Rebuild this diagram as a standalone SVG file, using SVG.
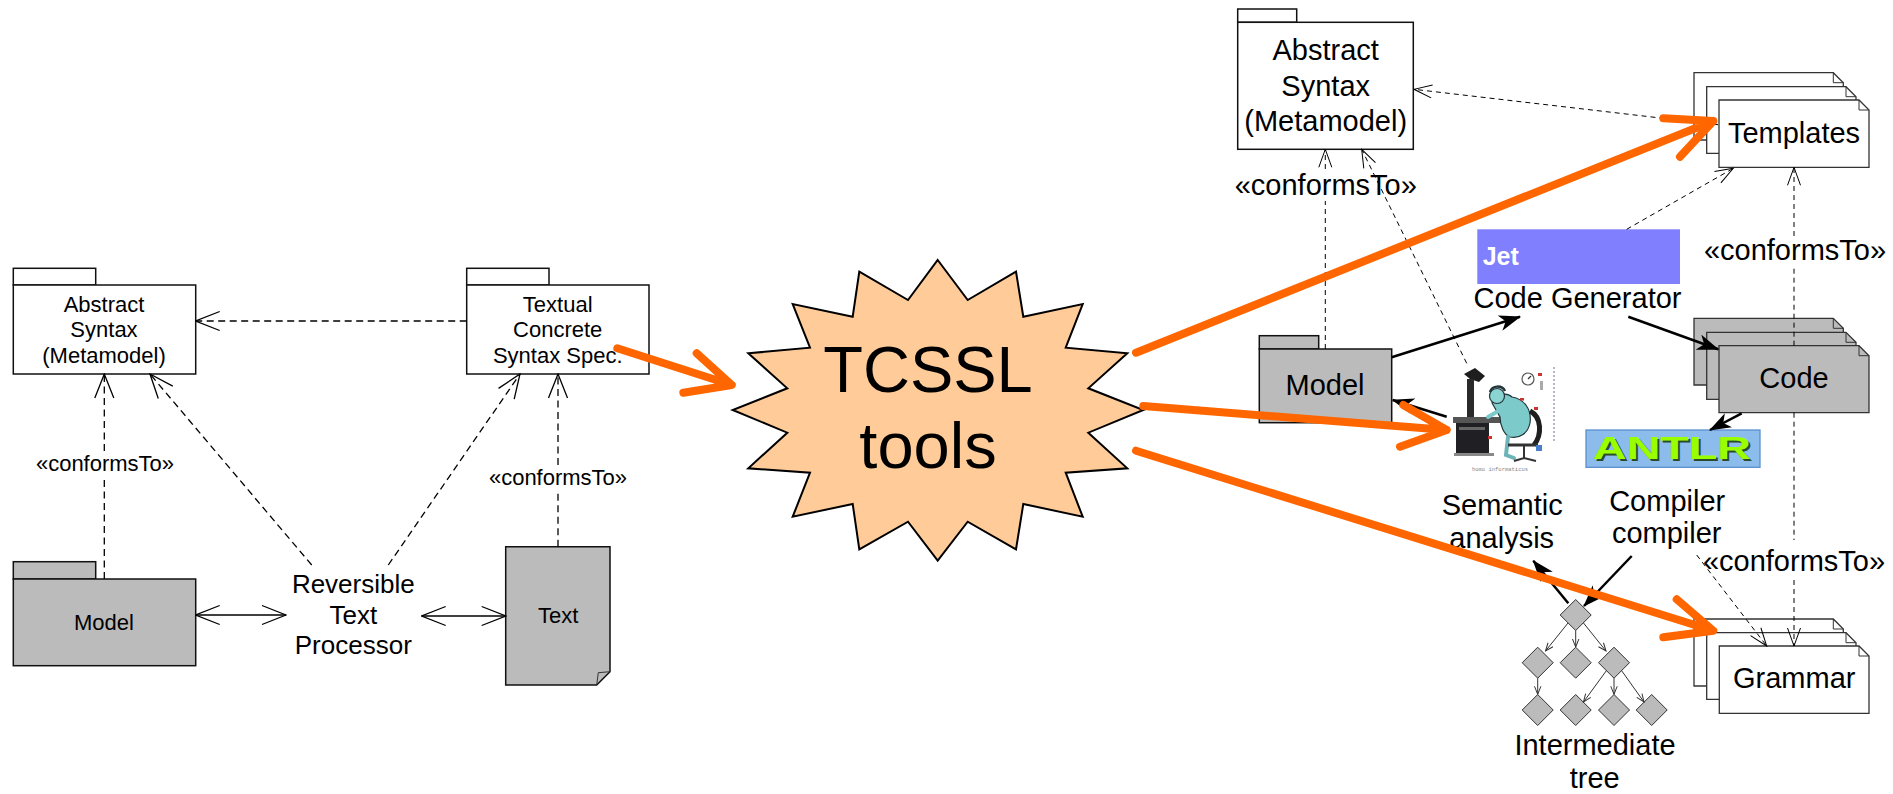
<svg xmlns="http://www.w3.org/2000/svg" width="1893" height="794" viewBox="0 0 1893 794">
  <defs>
    <style>
      text { font-family: "Liberation Sans", Arial, sans-serif; fill: #000; }
      .t22 { font-size: 22px; text-anchor: middle; }
      .t26 { font-size: 26px; text-anchor: middle; }
      .t29 { font-size: 29px; text-anchor: middle; }
      .box { fill: #fff; stroke: #111; stroke-width: 1.5; }
      .gray { fill: #bbb; stroke: #111; stroke-width: 1.5; }
      .sheet { fill: #fff; stroke: #333; stroke-width: 1.3; }
      .sheetg { fill: #bbb; stroke: #333; stroke-width: 1.3; }
      .fold { fill: none; stroke: #333; stroke-width: 1; }
      .dashL { fill: none; stroke: #000; stroke-width: 1.3; stroke-dasharray: 7 4.5; }
      .dashR { fill: none; stroke: #000; stroke-width: 1; stroke-dasharray: 5 4; }
      .lineL { fill: none; stroke: #000; stroke-width: 1.3; }
      .solid { fill: none; stroke: #000; stroke-width: 2.5; }
      .thin { fill: none; stroke: #333; stroke-width: 1; }
      .orange { fill: none; stroke: #ff6600; stroke-width: 8; stroke-linecap: round; stroke-linejoin: round; }
      .diamond { fill: #bbb; stroke: #333; stroke-width: 1; }
    </style>
    <marker id="openL" viewBox="0 0 26 22" refX="25" refY="11" markerWidth="26" markerHeight="22" markerUnits="userSpaceOnUse" orient="auto-start-reverse">
      <path d="M1,1.5 L25,11 L1,20.5" fill="none" stroke="#000" stroke-width="1.3"/>
    </marker>
    <marker id="openR" viewBox="0 0 20 16" refX="19" refY="8" markerWidth="20" markerHeight="16" markerUnits="userSpaceOnUse" orient="auto-start-reverse">
      <path d="M1,1.5 L19,8 L1,14.5" fill="none" stroke="#000" stroke-width="1"/>
    </marker>
    <marker id="openS" viewBox="0 0 10 8" refX="9" refY="4" markerWidth="10" markerHeight="8" markerUnits="userSpaceOnUse" orient="auto">
      <path d="M1,0.8 L9,4 L1,7.2" fill="none" stroke="#333" stroke-width="1"/>
    </marker>
    <marker id="filled" viewBox="0 0 22 16" refX="21" refY="8" markerWidth="22" markerHeight="16" markerUnits="userSpaceOnUse" orient="auto">
      <path d="M0,0 L22,8 L0,16 L6,8 Z" fill="#000"/>
    </marker>
  </defs>

  <rect x="0" y="0" width="1893" height="794" fill="#fff"/>

  <!-- ===== left-hand diagram ===== -->
  <g id="abstract-syntax-left">
    <rect class="box" x="13.3" y="268.3" width="82.4" height="16.7"/>
    <rect class="box" x="13.3" y="285" width="182.4" height="89"/>
    <text class="t22" x="104" y="311.7">Abstract</text>
    <text class="t22" x="104" y="337.3">Syntax</text>
    <text class="t22" x="104" y="362.7">(Metamodel)</text>
  </g>

  <g id="textual-concrete-syntax">
    <rect class="box" x="466.7" y="268.3" width="82.3" height="16.7"/>
    <rect class="box" x="466.7" y="285" width="182.3" height="89"/>
    <text class="t22" x="557.7" y="311.7">Textual</text>
    <text class="t22" x="557.7" y="337.3">Concrete</text>
    <text class="t22" x="557.7" y="362.7">Syntax Spec.</text>
  </g>

  <g id="model-left">
    <rect class="gray" x="13.3" y="561.7" width="82.4" height="17.3"/>
    <rect class="gray" x="13.3" y="579" width="182.4" height="86.7"/>
    <text class="t22" x="104" y="630">Model</text>
  </g>

  <g id="reversible-text-processor">
    <text class="t26" x="353.3" y="593.3">Reversible</text>
    <text class="t26" x="353.3" y="624">Text</text>
    <text class="t26" x="353.3" y="654">Processor</text>
  </g>

  <g id="text-document">
    <path class="gray" d="M505.7,546.7 H610 V671.7 L596.7,685 H505.7 Z"/>
    <path class="fold" d="M596.7,685 L598.3,672.7 L610,671.7"/>
    <text class="t22" x="558.3" y="623.3">Text</text>
  </g>

  <g id="labels-left">
    <text class="t22" x="105" y="470.7">«conformsTo»</text>
    <text class="t22" x="558" y="485">«conformsTo»</text>
  </g>

  <!-- ===== tool star ===== -->
  <g id="tcssl-tools">
    <polygon fill="#ffcc99" stroke="#000" stroke-width="2" points="937.7,260 967.7,300 1016,271.7 1023.3,316.7 1082.7,304 1065.7,347.7 1127.3,353.3 1088.3,388.3 1143.3,410 1088.3,432.7 1127.3,468.3 1065.7,472.7 1082.7,516.7 1023.3,504 1016,549.3 967.7,521.7 937.7,560.7 908,521.7 859.3,549.3 852.7,504 792.7,516.7 810,472.7 748.3,468.3 787.3,432.7 732.7,410 787.3,388.3 748.3,353.3 810,347.7 792.7,304 852.7,316.7 859.3,271.7 908,300"/>
    <text x="928" y="391.7" font-size="65" text-anchor="middle">TCSSL</text>
    <text x="928" y="468.3" font-size="65" text-anchor="middle">tools</text>
  </g>

  <!-- ===== right-hand diagram ===== -->
  <g id="abstract-syntax-right">
    <rect class="box" x="1237.7" y="9" width="59" height="13.3" stroke-width="1.3"/>
    <rect class="box" x="1237.7" y="22.3" width="175.6" height="127" stroke-width="1.3"/>
    <text class="t29" x="1325.7" y="60">Abstract</text>
    <text class="t29" x="1325.7" y="95.7">Syntax</text>
    <text class="t29" x="1325.7" y="131">(Metamodel)</text>
  </g>

  <g id="templates">
    <path class="sheet" d="M1694,72.7 H1833.3 L1843.3,82.7 V140 H1694 Z"/>
    <path class="fold" d="M1833.3,72.7 V82.7 H1843.3"/>
    <path class="sheet" d="M1706.7,86.7 H1846 L1856,96.7 V153.3 H1706.7 Z"/>
    <path class="fold" d="M1846,86.7 V96.7 H1856"/>
    <path class="sheet" d="M1719,100 H1859 L1869,110 V167.3 H1719 Z"/>
    <path class="fold" d="M1859,100 V110 H1869"/>
    <text class="t29" x="1794" y="142.7">Templates</text>
  </g>

  <g id="jet-code-generator">
    <rect x="1477.3" y="229.3" width="202.7" height="54.7" fill="#8080ff"/>
    <text x="1482.7" y="265" font-size="25" font-weight="bold" style="fill:#fff">Jet</text>
    <text class="t29" x="1577.5" y="308.3">Code Generator</text>
  </g>

  <g id="model-right">
    <rect class="gray" x="1259.3" y="335.7" width="59.4" height="13.3" stroke-width="1.3"/>
    <rect class="gray" x="1259.3" y="349" width="132.4" height="73.7" stroke-width="1.3"/>
    <text class="t29" x="1325" y="395">Model</text>
  </g>

  <g id="code">
    <path class="sheetg" d="M1694,318.3 H1833.3 L1843.3,328.3 V385 H1694 Z"/>
    <path class="fold" d="M1833.3,318.3 V328.3 H1843.3"/>
    <path class="sheetg" d="M1706.7,332.3 H1846 L1856,342.3 V399.3 H1706.7 Z"/>
    <path class="fold" d="M1846,332.3 V342.3 H1856"/>
    <path class="sheetg" d="M1719,345.7 H1859 L1869,355.7 V412.7 H1719 Z"/>
    <path class="fold" d="M1859,345.7 V355.7 H1869"/>
    <text class="t29" x="1794" y="388.3">Code</text>
  </g>

  <g id="semantic-analysis">
    <g transform="translate(1450,365)">
      <!-- lamp and monitor -->
      <polygon points="14,9 25,3 35,11 29,17 20,14" fill="#1e1e1e"/>
      <rect x="17" y="14" width="7" height="40" fill="#2a2a2a"/>
      <!-- desk -->
      <rect x="3" y="52" width="48" height="6" fill="#555"/>
      <rect x="6" y="58" width="33" height="30" fill="#1f1f24"/>
      <rect x="9" y="62" width="26" height="3" fill="#666"/>
      <rect x="4" y="88" width="40" height="3" fill="#888"/>
      <!-- person -->
      <path d="M42,38 C44,30 56,26 62,32 C74,34 82,44 80,58 C78,68 70,74 60,72 C54,70 50,60 50,52 Z" fill="#7ccaca" stroke="#22343a" stroke-width="1.2"/>
      <circle cx="47" cy="31" r="7.5" fill="#8ad4d2" stroke="#22343a" stroke-width="1.2"/>
      <path d="M40,27 C42,20 52,20 55,26" fill="none" stroke="#22343a" stroke-width="2.5"/>
      <path d="M50,45 L38,52" stroke="#7ccaca" stroke-width="4" stroke-linecap="round"/>
      <path d="M58,72 L56,90 L64,93" fill="none" stroke="#6cb4b8" stroke-width="4" stroke-linecap="round"/>
      <!-- chair -->
      <path d="M80,46 C92,52 92,70 84,80" fill="none" stroke="#1f1f1f" stroke-width="5"/>
      <path d="M58,80 H88" stroke="#333" stroke-width="3"/>
      <path d="M74,80 V93 M64,96 L74,93 L86,96" fill="none" stroke="#333" stroke-width="2"/>
      <!-- clock and desk clutter -->
      <circle cx="78" cy="14" r="6" fill="#fff" stroke="#555" stroke-width="1.2"/>
      <path d="M78,14 L81,11" stroke="#333" stroke-width="1.2"/>
      <rect x="90" y="16" width="3" height="9" fill="#aaa"/>
      <rect x="88" y="8" width="4" height="3" fill="#c33"/>
      <rect x="70" y="33" width="4" height="2.5" fill="#c33"/>
      <rect x="84" y="42" width="4" height="3" fill="#c33"/>
      <rect x="38" y="71" width="4" height="3" fill="#c33"/>
      <rect x="86" y="80" width="6" height="6" fill="#4a7fcc"/>
      <path d="M104,2 V78" stroke="#9aa0b8" stroke-width="1.5" stroke-dasharray="2 2"/>
      <text x="50" y="106" font-size="5.5" text-anchor="middle" style="fill:#888;font-family:'Liberation Mono',monospace">homo informaticus</text>
    </g>
    <text class="t29" x="1502.2" y="515">Semantic</text>
    <text class="t29" x="1501.7" y="548.3">analysis</text>
  </g>

  <g id="antlr-compiler-compiler">
    <rect x="1586" y="430" width="174" height="37.3" fill="#8cbcec" stroke="#5b8fd0" stroke-width="1.3"/>
    <text x="1595" y="461" font-size="31" font-weight="bold" textLength="158" lengthAdjust="spacingAndGlyphs" style="fill:#2b4b2b">ANTLR</text>
    <text x="1593" y="459" font-size="31" font-weight="bold" textLength="158" lengthAdjust="spacingAndGlyphs" style="fill:#99ff00">ANTLR</text>
    <text class="t29" x="1667.2" y="510.7">Compiler</text>
    <text class="t29" x="1666.7" y="543.3">compiler</text>
  </g>

  <g id="intermediate-tree">
    <polygon class="diamond" points="1575.7,599.5 1591.2,615 1575.7,630.5 1560.2,615"/>
    <polygon class="diamond" points="1537.7,647.2 1553.2,662.7 1537.7,678.2 1522.2,662.7"/>
    <polygon class="diamond" points="1575.7,647.2 1591.2,662.7 1575.7,678.2 1560.2,662.7"/>
    <polygon class="diamond" points="1614,647.2 1629.5,662.7 1614,678.2 1598.5,662.7"/>
    <polygon class="diamond" points="1537.7,694.5 1553.2,710 1537.7,725.5 1522.2,710"/>
    <polygon class="diamond" points="1575.7,694.5 1591.2,710 1575.7,725.5 1560.2,710"/>
    <polygon class="diamond" points="1614,694.5 1629.5,710 1614,725.5 1598.5,710"/>
    <polygon class="diamond" points="1651.7,694.5 1667.2,710 1651.7,725.5 1636.2,710"/>
    <path class="thin" marker-end="url(#openS)" d="M1568,623 L1545.5,651"/>
    <path class="thin" marker-end="url(#openS)" d="M1575.7,630.5 L1575.7,647"/>
    <path class="thin" marker-end="url(#openS)" d="M1583.5,623 L1606,651"/>
    <path class="thin" marker-end="url(#openS)" d="M1537.7,678.2 L1537.7,694.3"/>
    <path class="thin" marker-end="url(#openS)" d="M1606.5,670.5 L1583.5,702"/>
    <path class="thin" marker-end="url(#openS)" d="M1614,678.2 L1614,694.3"/>
    <path class="thin" marker-end="url(#openS)" d="M1621.5,670.5 L1644,702"/>
    <text class="t29" x="1595" y="755">Intermediate</text>
    <text class="t29" x="1594.7" y="788.3">tree</text>
  </g>

  <g id="grammar">
    <path class="sheet" d="M1694,619 H1833.3 L1843.3,629 V686 H1694 Z"/>
    <path class="fold" d="M1833.3,619 V629 H1843.3"/>
    <path class="sheet" d="M1706.7,632.7 H1846 L1856,642.7 V699.3 H1706.7 Z"/>
    <path class="fold" d="M1846,632.7 V642.7 H1856"/>
    <path class="sheet" d="M1719.3,646 H1859 L1869,656 V713.3 H1719.3 Z"/>
    <path class="fold" d="M1859,646 V656 H1869"/>
    <text class="t29" x="1794.2" y="688.3">Grammar</text>
  </g>

  <g id="labels-right">
    <text class="t29" x="1325.8" y="195">«conformsTo»</text>
    <text class="t29" x="1795" y="260">«conformsTo»</text>
    <text class="t29" x="1794" y="570.7">«conformsTo»</text>
  </g>

  <!-- ===== connectors ===== -->
  <g id="connectors">
    <!-- left diagram -->
    <path class="dashL" marker-end="url(#openL)" d="M466.7,321 L195.7,321"/>
    <path class="dashL" d="M104.3,579 L104.3,478"/>
    <path class="dashL" marker-end="url(#openL)" d="M104.3,451 L104.3,374"/>
    <path class="dashL" marker-end="url(#openL)" d="M311.7,565 L150,374"/>
    <path class="dashL" marker-end="url(#openL)" d="M388.3,565 L520,374"/>
    <path class="dashL" d="M558,546.7 L558,492"/>
    <path class="dashL" marker-end="url(#openL)" d="M558,465 L558,374"/>
    <path class="lineL" marker-start="url(#openL)" marker-end="url(#openL)" d="M195.7,615 L286,615"/>
    <path class="lineL" marker-start="url(#openL)" marker-end="url(#openL)" d="M421.7,616 L505.7,616"/>

    <!-- right diagram: dependencies -->
    <path class="dashR" marker-end="url(#openR)" d="M1718,124.7 L1414,89.3"/>
    <path class="dashR" d="M1325.3,349 L1325.3,201"/>
    <path class="dashR" marker-end="url(#openR)" d="M1325.3,169 L1325.3,149.3"/>
    <path class="dashR" marker-end="url(#openR)" d="M1466.7,363.3 L1361.7,149.3"/>
    <path class="dashR" marker-end="url(#openR)" d="M1626.7,229.3 L1733.3,168.3"/>
    <path class="dashR" d="M1794,345.7 L1794,268"/>
    <path class="dashR" marker-end="url(#openR)" d="M1794,236 L1794,167.3"/>
    <path class="dashR" d="M1794,412.7 L1794,540"/>
    <path class="dashR" marker-end="url(#openR)" d="M1794,580 L1794,646"/>
    <path class="dashR" marker-end="url(#openR)" d="M1696.7,555 L1766.7,646"/>

    <!-- right diagram: data flow -->
    <path class="solid" marker-end="url(#filled)" d="M1391.7,357.3 L1520,316.7"/>
    <path class="solid" marker-end="url(#filled)" d="M1628.3,316.7 L1718.3,349.3"/>
    <path class="solid" marker-end="url(#filled)" d="M1741.7,413.3 L1710,430"/>
    <path class="solid" marker-end="url(#filled)" d="M1446.7,416.7 L1392.7,400"/>
    <path class="solid" marker-end="url(#filled)" d="M1568.3,603.3 L1533.3,560.7"/>
    <path class="solid" marker-end="url(#filled)" d="M1631.7,556 L1584,606"/>

    <!-- tool outputs -->
    <path class="orange" d="M617.3,348.3 L731.7,385 M696.7,353.3 L731.7,385 L683.3,392.7"/>
    <path class="orange" d="M1136,352.7 L1713.3,121 M1663.3,118.3 L1713.3,121 L1680,156.7"/>
    <path class="orange" d="M1143.3,406 L1446.7,430 M1403.3,405 L1446.7,430 L1400,446.7"/>
    <path class="orange" d="M1136,450.7 L1713.3,630.7 M1676.7,599.3 L1713.3,630.7 L1663.3,637.3"/>
  </g>
</svg>
